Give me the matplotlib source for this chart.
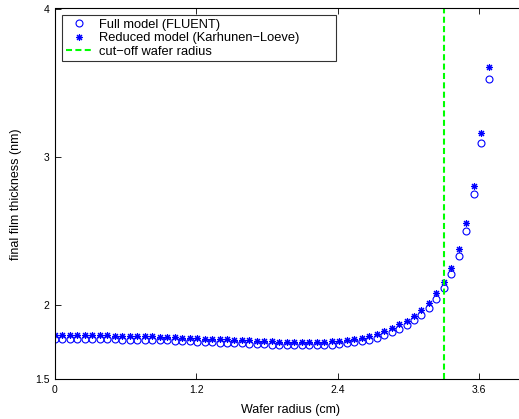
import numpy as np
import matplotlib
matplotlib.use("Agg")
import matplotlib.pyplot as plt

plt.rcParams['font.family'] = ['Liberation Sans', 'DejaVu Sans']

# radial grid of the wafer (cm)
n_points = 59
r_max = 3.684
radius = np.linspace(0.0, r_max, n_points)

# final film thickness (nm) from the full FLUENT model
full_model = [
    1.770, 1.770, 1.770, 1.769, 1.769, 1.768, 1.768, 1.767, 1.767, 1.766,
    1.765, 1.764, 1.763, 1.762, 1.761, 1.760, 1.758, 1.756, 1.754, 1.752,
    1.750, 1.748, 1.746, 1.744, 1.742, 1.740, 1.738, 1.736, 1.734, 1.732,
    1.730, 1.729, 1.728, 1.727, 1.727, 1.728, 1.729, 1.732, 1.736, 1.741,
    1.748, 1.756, 1.766, 1.779, 1.795, 1.815, 1.838, 1.862, 1.896, 1.935,
    1.979, 2.038, 2.113, 2.210, 2.332, 2.499, 2.747, 3.090, 3.522,
]

# final film thickness (nm) from the Karhunen-Loeve reduced model
reduced_model = [
    1.797, 1.797, 1.797, 1.796, 1.796, 1.795, 1.795, 1.794, 1.793, 1.792,
    1.791, 1.790, 1.789, 1.787, 1.786, 1.784, 1.782, 1.780, 1.777, 1.775,
    1.773, 1.771, 1.769, 1.767, 1.765, 1.763, 1.761, 1.759, 1.757, 1.755,
    1.753, 1.752, 1.751, 1.750, 1.750, 1.751, 1.752, 1.755, 1.759, 1.764,
    1.771, 1.780, 1.791, 1.805, 1.822, 1.843, 1.868, 1.894, 1.928, 1.966,
    2.016, 2.079, 2.153, 2.252, 2.378, 2.555, 2.805, 3.161, 3.606,
]

cutoff_radius = 3.30

x_ticks = [0, 1.2, 2.4, 3.6]
x_tick_labels = ["0", "1.2", "2.4", "3.6"]
y_ticks = [1.5, 2, 3, 4]
y_tick_labels = ["1.5", "2", "3", "4"]

W, H = 519, 419
AX_W, AX_H = 471, 370.5
fig = plt.figure(figsize=(W / 100, H / 100), dpi=100)
ax = fig.add_axes([55 / W, 1 - 379 / H, AX_W / W, AX_H / H])

blue = (0, 0, 1)
ax.plot(radius, full_model, linestyle='none', marker='o', markersize=5,
        markerfacecolor='none', markeredgecolor=blue, markeredgewidth=0.8,
        label='Full model (FLUENT)')
ax.plot(radius, reduced_model, linestyle='none', marker=(8, 2, 0),
        markersize=5, markeredgecolor=blue, markeredgewidth=0.8,
        color=blue, label='Reduced model (Karhunen\u2212Loeve)')
ax.axvline(cutoff_radius, color=(0, 1, 0), linewidth=1.5,
           dashes=(2.9, 1.6), label='cut\u2212off wafer radius')

ax.set_xlim(0, 4)
ax.set_ylim(1.5, 4)
ax.set_xticks(x_ticks)
ax.set_xticklabels(x_tick_labels)
ax.set_yticks(y_ticks)
ax.set_yticklabels(y_tick_labels)
ax.tick_params(direction='in', length=4, width=0.6, labelsize=7.5,
               top=True, right=True, pad=4)
for s in ax.spines.values():
    s.set_linewidth(0.8)

ax.set_xlabel('Wafer radius (cm)', fontsize=9, labelpad=7)
ax.set_ylabel('final film thickness (nm)', fontsize=9, labelpad=9)

# legend box spanning a fixed width in the upper-left corner
box_top = 1 - 6.5 / AX_H
leg = ax.legend(loc='upper left',
                bbox_to_anchor=(7 / AX_W, box_top - 0.2, 274 / AX_W, 0.2),
                mode='expand',
                fontsize=9.3, frameon=True, fancybox=False, edgecolor='black',
                borderaxespad=0, borderpad=0.3, handlelength=2.0,
                handletextpad=0.6, labelspacing=0.1)
leg.get_frame().set_linewidth(0.8)

fig.savefig('out.png', dpi=100)
